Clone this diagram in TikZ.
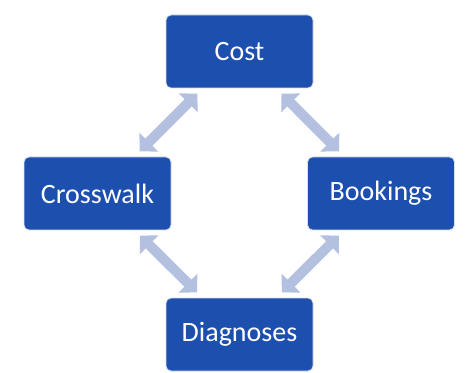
\documentclass[tikz,border=0pt]{standalone}
\usepackage{fontspec}
\setmainfont{Carlito}
\usetikzlibrary{arrows.meta}
\definecolor{boxblue}{HTML}{1D4FAE}
\definecolor{linkblue}{HTML}{B4C0E0}
\definecolor{boxedge}{HTML}{D9DEEA}
\begin{document}
\begin{tikzpicture}[x=1pt,y=1pt,
  topic/.style={rectangle, rounded corners=5pt, fill=boxblue, draw=boxedge, line width=0.8pt,
    minimum width=147pt, minimum height=73pt, outer sep=0pt, text=white,
    font=\fontsize{28}{32}\selectfont},
  link/.style={draw=linkblue, line width=10pt,
    {Triangle[length=13pt,width=26pt,fill=linkblue]}-{Triangle[length=13pt,width=26pt,fill=linkblue]},
    shorten <=8pt, shorten >=8pt}]
\useasboundingbox (0,0) rectangle (465,372);
\node[topic] (cost) at (239.5,320.5) {Cost};
\node[topic] (cross) at (97.5,178.5) {Crosswalk};
\node[topic] (book) at (381,178.5) {Bookings};
\node[topic] (diag) at (239.5,37.5) {Diagnoses};
\draw[link] (cross) -- (cost);
\draw[link] (cost) -- (book);
\draw[link] (cross) -- (diag);
\draw[link] (diag) -- (book);
\end{tikzpicture}
\end{document}
